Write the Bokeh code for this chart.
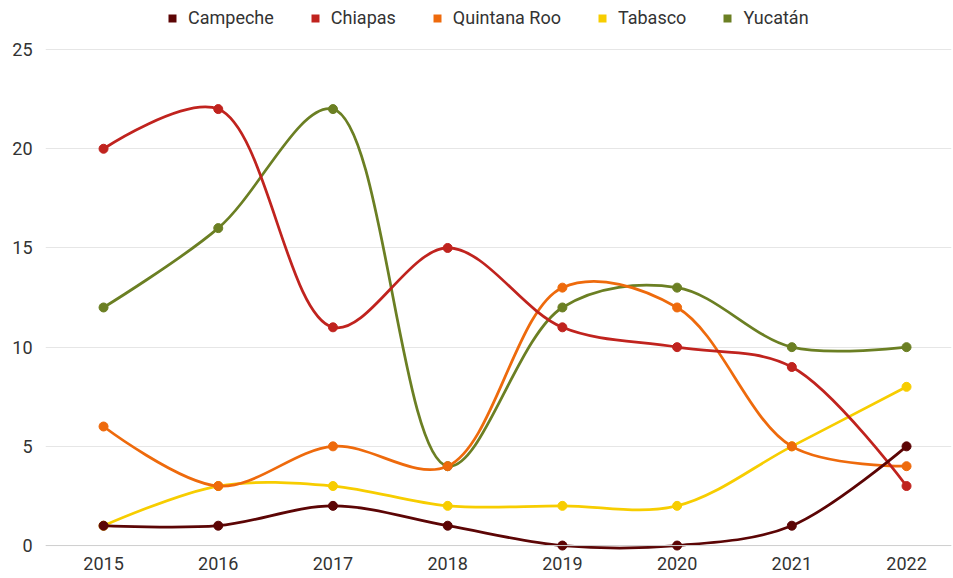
import math
from bokeh.plotting import figure
from bokeh.models import Range1d, FixedTicker, Legend, LegendItem, Span, ColumnDataSource
from bokeh.embed import file_html
from bokeh.resources import INLINE

years = [2015, 2016, 2017, 2018, 2019, 2020, 2021, 2022]
campeche = [1, 1, 2, 1, 0, 0, 1, 5]
chiapas = [20, 22, 11, 15, 11, 10, 9, 3]
quintana_roo = [6, 3, 5, 4, 13, 12, 5, 4]
tabasco = [1, 3, 3, 2, 2, 2, 5, 8]
yucatan = [12, 16, 22, 4, 12, 13, 10, 10]

series_names = ["Campeche", "Chiapas", "Quintana Roo", "Tabasco", "Yucatán"]
series_values = [campeche, chiapas, quintana_roo, tabasco, yucatan]
colors = ["#5c0505", "#c0231e", "#ee6a0c", "#f7cd00", "#6b7f23"]
y_ticks = [0, 5, 10, 15, 20, 25]

FONT = "Roboto"
TEXT = "#333333"

p = figure(width=953, height=578,
           x_range=Range1d(2014.494, 2022.392), y_range=Range1d(-0.3, 27.07),
           output_backend="svg", toolbar_location=None,
           min_border_left=45, min_border_right=2, min_border_top=8, min_border_bottom=27)
p.outline_line_color = None
p.background_fill_color = "white"
p.border_fill_color = "white"
p.xgrid.grid_line_color = None
p.ygrid.grid_line_color = "#e6e6e6"
p.ygrid.grid_line_width = 1

p.xaxis.ticker = FixedTicker(ticks=years)
p.yaxis.ticker = FixedTicker(ticks=y_ticks)
for ax in (p.xaxis, p.yaxis):
    ax.axis_line_color = None
    ax.major_tick_line_color = None
    ax.minor_tick_line_color = None
    ax.major_tick_out = 0
    ax.major_tick_in = 0
    ax.major_label_text_font = FONT
    ax.major_label_text_font_size = "18px"
    ax.major_label_text_color = TEXT
p.yaxis.major_label_standoff = 13
p.xaxis.major_label_standoff = 5

p.add_layout(Span(location=0, dimension="width", line_color="#cfcfcf", line_width=1))

# pixel scale used for the centripetal Catmull-Rom weights
PX_X = 114.71
PX_Y = 19.84
ALPHA = 0.5
EPS = 1e-12


def pdist(a, b):
    return math.hypot((a[0] - b[0]) * PX_X, (a[1] - b[1]) * PX_Y)


def spline_segments(xs, ys):
    pts = list(zip(xs, ys))
    n = len(pts)
    d = dict(x0=[], y0=[], x1=[], y1=[], cx0=[], cy0=[], cx1=[], cy1=[])
    for i in range(n - 1):
        P1, P2 = pts[i], pts[i + 1]
        P0 = pts[i - 1] if i > 0 else None
        P3 = pts[i + 2] if i + 2 < n else None
        l12 = pdist(P1, P2)
        l12_2a = l12 ** (2 * ALPHA); l12_a = l12 ** ALPHA
        c1 = P1
        if P0 is not None:
            l01 = pdist(P0, P1)
            l01_2a = l01 ** (2 * ALPHA); l01_a = l01 ** ALPHA
            if l01_a > EPS:
                a = 2 * l01_2a + 3 * l01_a * l12_a + l12_2a
                nn = 3 * l01_a * (l01_a + l12_a)
                c1 = tuple((P1[k] * a - P0[k] * l12_2a + P2[k] * l01_2a) / nn for k in range(2))
        c2 = P2
        if P3 is not None:
            l23 = pdist(P2, P3)
            l23_2a = l23 ** (2 * ALPHA); l23_a = l23 ** ALPHA
            if l23_a > EPS:
                b = 2 * l23_2a + 3 * l23_a * l12_a + l12_2a
                m = 3 * l23_a * (l23_a + l12_a)
                c2 = tuple((P2[k] * b + P1[k] * l23_2a - P3[k] * l12_2a) / m for k in range(2))
        d["x0"].append(P1[0]); d["y0"].append(P1[1])
        d["x1"].append(P2[0]); d["y1"].append(P2[1])
        d["cx0"].append(c1[0]); d["cy0"].append(c1[1])
        d["cx1"].append(c2[0]); d["cy1"].append(c2[1])
    return d


# draw last series first so first series is on top
for name, vals, col in reversed(list(zip(series_names, series_values, colors))):
    segs = ColumnDataSource(spline_segments(years, vals))
    p.bezier(x0="x0", y0="y0", x1="x1", y1="y1", cx0="cx0", cy0="cy0", cx1="cx1", cy1="cy1",
             source=segs, line_color=col, line_width=2.75)
    p.scatter(years, vals, size=9, marker="circle", fill_color=col, line_color=col)

items = []
for name, vals, col in zip(series_names, series_values, colors):
    r = p.scatter(years, vals, marker="square", size=0, fill_color=col, line_color=None)
    items.append(LegendItem(label=name, renderers=[r]))

legend = Legend(items=items, orientation="horizontal", location=(116, 523),
                border_line_color=None, background_fill_alpha=0,
                label_text_font=FONT, label_text_font_size="18px", label_text_color=TEXT,
                glyph_width=22, glyph_height=20, label_height=20, label_standoff=5, spacing=30,
                padding=0, margin=0)
p.add_layout(legend)

open("out.html", "w").write(file_html(p, INLINE))
